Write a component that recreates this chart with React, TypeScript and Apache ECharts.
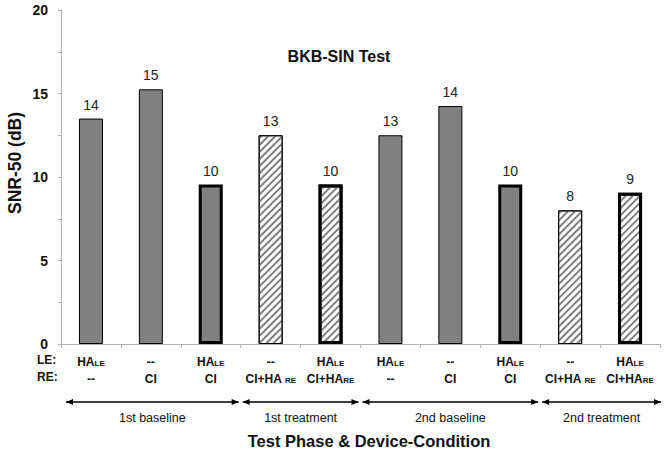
import React, { useEffect, useRef } from 'react';
import * as echarts from 'echarts';

const categories = ['c1', 'c2', 'c3', 'c4', 'c5', 'c6', 'c7', 'c8', 'c9', 'c10'];
const leLabels = ['HA_LE', '--', 'HA_LE', '--', 'HA_LE', 'HA_LE', '--', 'HA_LE', '--', 'HA_LE'];
const reLabels = ['--', 'CI', 'CI', 'CI+HA _RE', 'CI+HA_RE', '--', 'CI', 'CI', 'CI+HA _RE', 'CI+HA_RE'];
const values = [13.5, 15.25, 9.55, 12.5, 9.55, 12.5, 14.25, 9.55, 8.0, 9.05];
const valueLabels = ['14', '15', '10', '13', '10', '13', '14', '10', '8', '9'];
const hatched = [false, false, false, true, true, false, false, false, true, true];
const thick = [false, false, true, false, true, false, false, true, false, true];
const phaseNames = ['1st baseline', '1st treatment', '2nd baseline', '2nd treatment'];
const phaseFrom = [0, 3, 5, 8];
const phaseTo = [2, 4, 7, 9];

const FONT = '"Liberation Sans", Arial, sans-serif';

function toRich(s: string): string {
  const i = s.indexOf('_');
  if (i < 0) return `{m|${s}}`;
  return `{m|${s.slice(0, i)}}{s|${s.slice(i + 1)}}`;
}

export default function App() {
  const ref = useRef<HTMLDivElement>(null);
  useEffect(() => {
    if (!ref.current) return;
    const chart = echarts.init(ref.current, undefined, { renderer: 'svg' });
    const hatchDecal = {
      symbol: 'rect',
      symbolSize: 1,
      dashArrayX: [[1, 0]],
      dashArrayY: [1.5, 3],
      rotation: -Math.PI / 4,
      color: '#808080',
      backgroundColor: '#ffffff',
    };
    const option: any = {
      animation: false,
      backgroundColor: '#ffffff',
      grid: { left: 61, right: 7, top: 10, bottom: 117, outerBoundsMode: 'none' },
      title: {
        text: 'BKB-SIN Test',
        left: 334,
        top: 43,
        textAlign: 'center',
        textStyle: { fontFamily: FONT, fontSize: 16, fontWeight: 'bold', color: '#111' },
      },
      xAxis: {
        type: 'category',
        data: categories,
        axisLine: { lineStyle: { color: '#b0b0b0', width: 1 } },
        axisTick: { show: true, length: 4, lineStyle: { color: '#b0b0b0' } },
        axisLabel: {
          interval: 0,
          margin: 9,
          formatter: (_v: string, idx: number) => toRich(leLabels[idx]) + '\n' + toRich(reLabels[idx]),
          rich: {
            m: { fontFamily: FONT, fontSize: 12, fontWeight: 'bold', color: '#111', lineHeight: 17, verticalAlign: 'middle' },
            s: { fontFamily: FONT, fontSize: 8, fontWeight: 'bold', color: '#111', lineHeight: 11, verticalAlign: 'middle', padding: [3, 0, 0, 0] },
          },
        },
      },
      yAxis: {
        type: 'value',
        min: 0,
        max: 20,
        interval: 5,
        axisLine: { show: true, lineStyle: { color: '#b0b0b0', width: 1 } },
        axisTick: { show: true, length: 3, lineStyle: { color: '#b0b0b0' } },
        minorTick: { show: true, splitNumber: 2, length: 3, lineStyle: { color: '#b0b0b0' } },
        splitLine: { show: false },
        axisLabel: { fontFamily: FONT, fontSize: 14, fontWeight: 'bold', color: '#111', margin: 13 },
      },
      series: [
        {
          type: 'bar',
          barWidth: 24,
          data: values.map((v, i) => ({
            value: v,
            itemStyle: {
              color: hatched[i] ? '#ffffff' : '#808080',
              borderColor: '#000',
              borderWidth: thick[i] ? 3 : 1,
              decal: hatched[i] ? hatchDecal : undefined,
            },
          })),
          label: {
            show: true,
            position: 'top',
            distance: 7,
            formatter: (p: any) => valueLabels[p.dataIndex],
            fontFamily: FONT,
            fontSize: 14,
            color: '#222',
          },
        },
      ],
    };
    chart.setOption(option);

    const cx = (i: number) => chart.convertToPixel({ xAxisIndex: 0 }, categories[i]) as number;
    const band = cx(1) - cx(0);
    const y0 = chart.convertToPixel({ yAxisIndex: 0 }, 0) as number;
    const ay = y0 + 58;
    const graphics: any[] = [];
    const head = 7;
    const hw = 3;
    phaseNames.forEach((name, k) => {
      const x1 = cx(phaseFrom[k]) - band / 2 + (k === 0 ? 5 : 2);
      const x2 = cx(phaseTo[k]) + band / 2 - 2 + (k === phaseNames.length - 1 ? 3 : 0);
      graphics.push({
        type: 'line',
        shape: { x1, y1: ay, x2, y2: ay },
        style: { stroke: '#000', lineWidth: 1.3 },
      });
      graphics.push({
        type: 'polygon',
        shape: { points: [[x1, ay], [x1 + head, ay - hw], [x1 + head, ay + hw]] },
        style: { fill: '#000' },
      });
      graphics.push({
        type: 'polygon',
        shape: { points: [[x2, ay], [x2 - head, ay - hw], [x2 - head, ay + hw]] },
        style: { fill: '#000' },
      });
      graphics.push({
        type: 'text',
        x: (x1 + x2) / 2,
        y: ay + 16,
        style: { text: name, fontFamily: FONT, fontSize: 12.5, fill: '#111', textAlign: 'center', textVerticalAlign: 'middle' },
      });
    });
    graphics.push({
      type: 'text',
      x: 37,
      y: y0 + 16,
      style: { text: 'LE:', fontFamily: FONT, fontSize: 12, fontWeight: 'bold', fill: '#111', textAlign: 'left', textVerticalAlign: 'middle' },
    });
    graphics.push({
      type: 'text',
      x: 37,
      y: y0 + 33,
      style: { text: 'RE:', fontFamily: FONT, fontSize: 12, fontWeight: 'bold', fill: '#111', textAlign: 'left', textVerticalAlign: 'middle' },
    });
    graphics.push({
      type: 'text',
      x: 369,
      y: y0 + 97,
      style: { text: 'Test Phase & Device-Condition', fontFamily: FONT, fontSize: 16.5, fontWeight: 'bold', fill: '#111', textAlign: 'center', textVerticalAlign: 'middle' },
    });
    graphics.push({
      type: 'text',
      x: 15,
      y: 163,
      rotation: Math.PI / 2,
      style: { text: 'SNR-50 (dB)', fontFamily: FONT, fontSize: 17.5, fontWeight: 'bold', fill: '#111', textAlign: 'center', textVerticalAlign: 'middle' },
    });
    chart.setOption({ graphic: graphics });

    return () => chart.dispose();
  }, []);
  return <div ref={ref} style={{ width: 667, height: 461, position: 'absolute', left: 0, top: 0 }} />;
}
